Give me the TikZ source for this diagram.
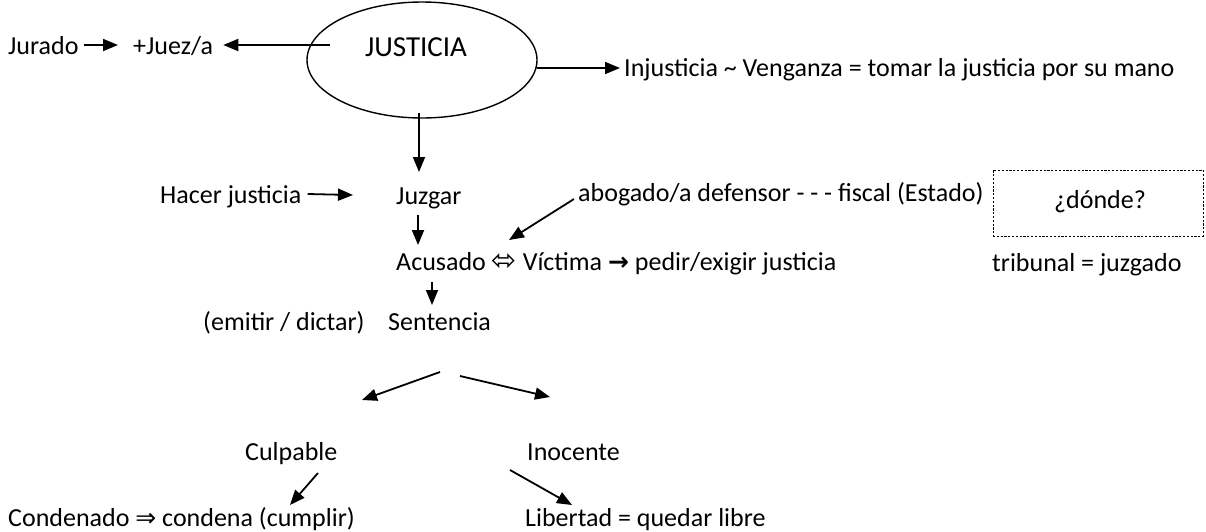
\documentclass[tikz,border=0pt]{standalone}
\usepackage{fontspec}
\setmainfont{Carlito}
\newfontfamily\dejavu{DejaVu Sans}
\usetikzlibrary{arrows.meta,shapes.geometric}
\newcommand\dfs{\fontsize{26}{30}\selectfont}
\newcommand\bigfs{\fontsize{29}{33}\selectfont}
\newcommand\symfs{\fontsize{25}{29}\selectfont}
\newcommand\dblfs{\fontsize{30}{34}\selectfont}
\begin{document}
\begin{tikzpicture}[x=1pt,y=-1pt,
  t/.style={inner sep=0pt, anchor=base west, font=\dfs},
  arr/.style={line width=1.8pt, -{Triangle[length=15pt,width=12pt]}},
  oval/.style={draw, ellipse, line width=1.4pt, inner sep=0pt},
  dbox/.style={draw, line width=0.9pt, dash pattern=on 2.2pt off 1.6pt, inner sep=0pt}
]
\useasboundingbox (0,0) rectangle (1206,531);
% row 1
\node[t] (jur) at (8,54) {Jurado};
\node[t] (juez) at (133,54) {+Juez/a};
\node[oval, minimum width=230pt, minimum height=116pt] (jus) at (422,60) {};
\node[t, anchor=base, font=\bigfs] (jt) at (416,56) {JUSTICIA};
\node[t] (inj) at (624,76) {Injusticia \textasciitilde{} Venganza = tomar la justicia por su mano};
\coordinate (jl) at (330,45);
\draw[arr] ([shift={(5,-9)}]jur.base east) -- ([shift={(-15,-9)}]juez.base west);
\draw[arr] (jl) -- ([shift={(10,-9)}]juez.base east);
\draw[arr] (jus.-4) -- ([shift={(-4,-8)}]inj.base west);
% row 2
\node[t] (hac) at (160,203) {Hacer justicia};
\node[t] (juz) at (396,204) {Juzgar};
\node[t] (abo) at (578,201) {abogado/a defensor - - - fiscal (Estado)};
\node[dbox, minimum width=210pt, minimum height=66pt] (box) at (1098,203) {};
\node[t, anchor=base] (don) at (1100,208) {¿dónde?};
\draw[arr] ([xshift=-3pt, yshift=6pt]jus.south) -- ([shift={(23,-32)}]juz.base west);
\draw[arr] ([shift={(6,-9)}]hac.base east) -- ([shift={(-43,-9)}]juz.base west);
% row 3
\node[t] (acu) at (396,270) {Acusado {\dejavu\dblfs ⬄} Víctima {\dejavu\bfseries\symfs →} pedir/exigir justicia};
\node[t] (tri) at (992,271) {tribunal = juzgado};
\draw[arr] ([shift={(-4,-2)}]abo.base west) -- ([shift={(113,-30)}]acu.base west);
\draw[arr] ([shift={(22,11)}]juz.base west) -- ([shift={(22,-25)}]acu.base west);
% row 4
\node[t] (emi) at (203,330) {(emitir / dictar)};
\node[t] (sen) at (388,330) {Sentencia};
\draw[arr] ([shift={(36,12)}]acu.base west) -- ([shift={(44,-25)}]sen.base west);
\draw[arr] ([shift={(52,42)}]sen.base west) -- ([shift={(-26,70)}]sen.base west);
\draw[arr] ([shift={(72,46)}]sen.base west) -- ([shift={(162,67)}]sen.base west);
% row 5
\node[t] (cul) at (245,460) {Culpable};
\node[t] (ino) at (527,460) {Inocente};
\node[t] (con) at (8,526) {Condenado {\dejavu\symfs ⇒} condena (cumplir)};
\node[t] (lib) at (525,526) {Libertad = quedar libre};
\draw[arr] ([shift={(73,13)}]cul.base west) -- ([shift={(45,45)}]cul.base west);
\draw[arr] ([shift={(-17,10)}]ino.base west) -- ([shift={(47,-21)}]lib.base west);
\end{tikzpicture}
\end{document}
